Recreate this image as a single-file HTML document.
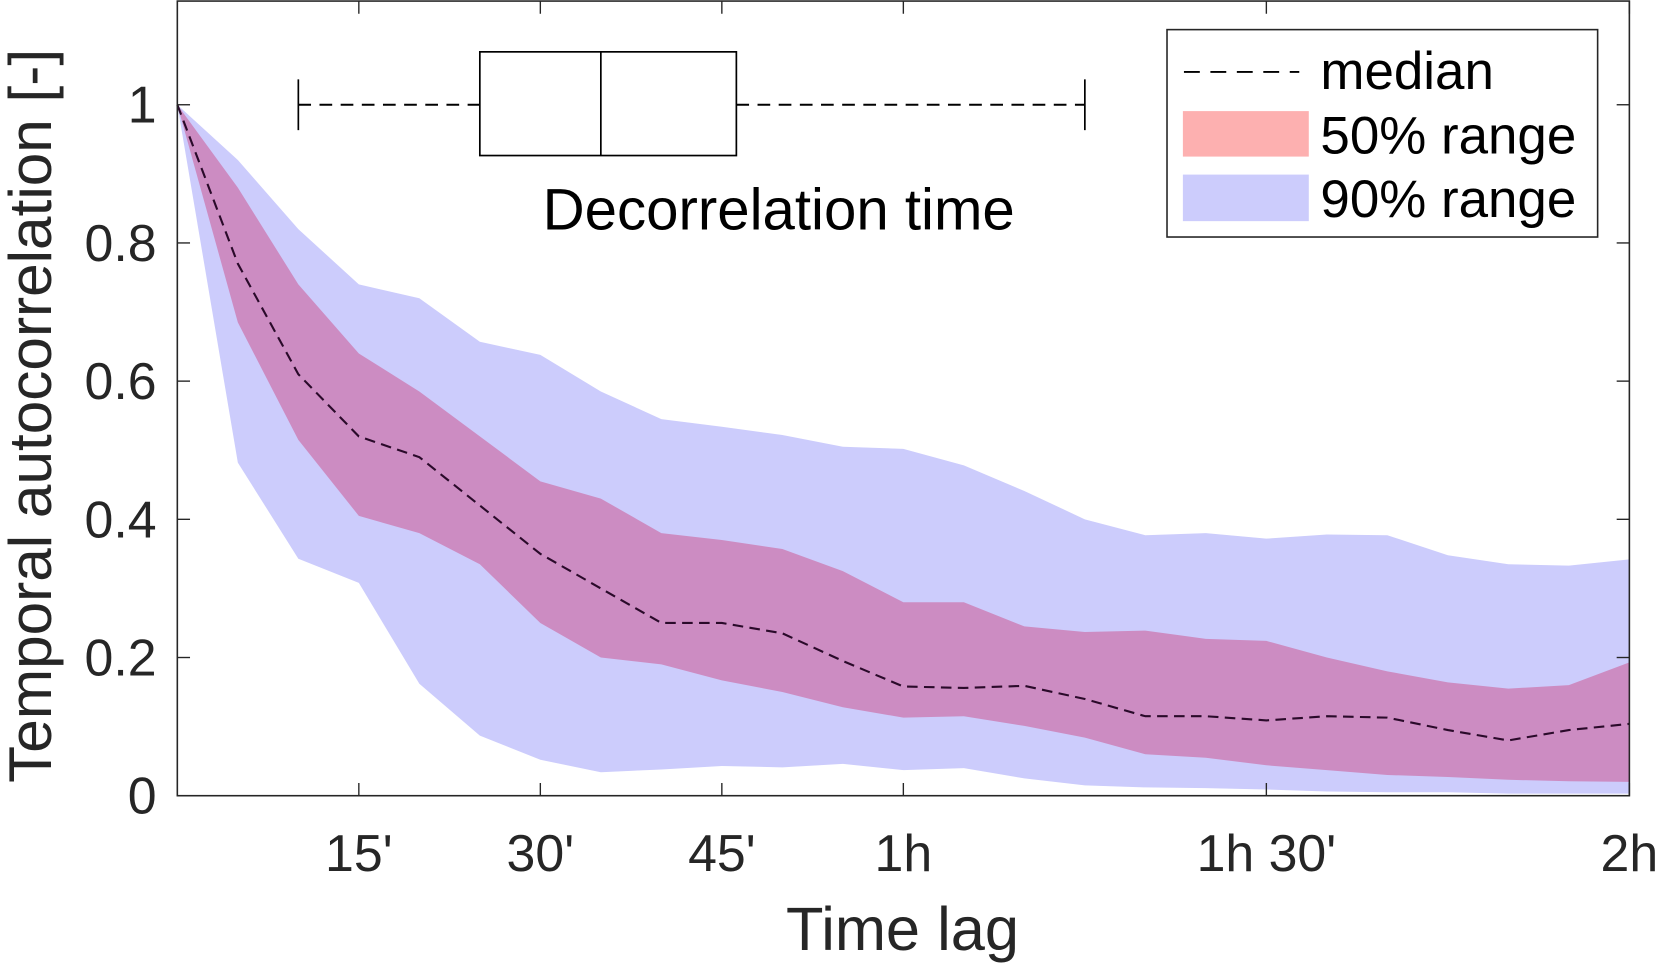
<!DOCTYPE html>
<html><head><meta charset="utf-8"><style>
html,body{margin:0;padding:0;background:#fff;}
svg{display:block;}
text{font-family:"Liberation Sans",Arial,sans-serif;fill:#262626;}
</style></head><body>
<svg id="chart" width="1659" height="965" viewBox="0 0 1568 912" preserveAspectRatio="none" xmlns="http://www.w3.org/2000/svg">
<g id="plot"></g>
</svg>
<script>
const lags = [0,5,10,15,20,25,30,35,40,45,50,55,60,65,70,75,80,85,90,95,100,105,110,115,120];
const medianVals = [1,0.77,0.61,0.52,0.49,0.42,0.35,0.30,0.25,0.25,0.235,0.195,0.158,0.156,0.159,0.14,0.115,0.115,0.109,0.115,0.113,0.095,0.08,0.095,0.104];
const p50Upper = [1,0.88,0.74,0.64,0.585,0.52,0.455,0.43,0.38,0.37,0.357,0.325,0.28,0.28,0.245,0.237,0.239,0.227,0.224,0.2,0.18,0.164,0.155,0.16,0.193];
const p50Lower = [1,0.685,0.515,0.405,0.38,0.335,0.25,0.2,0.19,0.167,0.15,0.128,0.113,0.115,0.101,0.084,0.06,0.055,0.044,0.037,0.03,0.027,0.023,0.021,0.02];
const p90Upper = [1,0.92,0.82,0.74,0.72,0.657,0.638,0.585,0.545,0.534,0.522,0.505,0.502,0.478,0.441,0.4,0.377,0.38,0.372,0.378,0.377,0.348,0.335,0.333,0.342];
const p90Lower = [1,0.482,0.343,0.308,0.162,0.087,0.052,0.034,0.038,0.043,0.041,0.046,0.037,0.04,0.025,0.015,0.012,0.011,0.009,0.006,0.005,0.005,0.003,0.003,0.003];
const xTickVals = [15,30,45,60,90,120];
const xTickLabels = ["15'","30'","45'","1h","1h 30'","2h"];
const yTickVals = [0,0.2,0.4,0.6,0.8,1];
const yTickLabels = ["0","0.2","0.4","0.6","0.8","1"];
const boxStats = [10,25,35,46.2,75]; // whiskerLow, q1, median, q3, whiskerHigh (minutes)

const L=167.6,R=1540,T=1,B=752;
const X=t=>L+(t/120)*(R-L);
const Y=v=>B-v*653;
const NS="http://www.w3.org/2000/svg";
const g=document.getElementById('plot');
function mk(tag,attrs,parent){const e=document.createElementNS(NS,tag);for(const k in attrs)e.setAttribute(k,attrs[k]);(parent||g).appendChild(e);return e;}
function band(up,lo){let pts=lags.map((t,i)=>X(t)+','+Y(up[i]));for(let i=lags.length-1;i>=0;i--)pts.push(X(lags[i])+','+Y(lo[i]));return pts.join(' ');}

let e=mk('polygon',{points:band(p90Upper,p90Lower),fill:'#ccccfc',stroke:'none'});


e=mk('polygon',{points:band(p50Upper,p50Lower),fill:'#cc8cc2',stroke:'none'});


e=mk('polyline',{points:lags.map((t,i)=>X(t)+','+Y(medianVals[i])).join(' '),fill:'none',stroke:'#2a0a2a','stroke-width':2,'stroke-dasharray':'10,6'});



e=mk('rect',{x:L,y:T,width:R-L,height:B-T,fill:'none',stroke:'#262626','stroke-width':1.5});


xTickVals.forEach((v,i)=>{
  mk('line',{x1:X(v),x2:X(v),y1:B,y2:B-12,stroke:'#262626','stroke-width':1.3});
  mk('line',{x1:X(v),x2:X(v),y1:T,y2:T+12,stroke:'#262626','stroke-width':1.3});
  const t=mk('text',{x:X(v),y:823,'font-size':49,'text-anchor':'middle'});
  t.textContent=xTickLabels[i];
  
  
});
yTickVals.forEach((v,i)=>{
  mk('line',{x1:L,x2:L+12,y1:Y(v),y2:Y(v),stroke:'#262626','stroke-width':1.3});
  mk('line',{x1:R,x2:R-12,y1:Y(v),y2:Y(v),stroke:'#262626','stroke-width':1.3});
  const t=mk('text',{x:148,y:Y(v)+17,'font-size':49,'text-anchor':'end'});
  t.textContent=yTickLabels[i];
  
  
});

const bg=mk('g',{});


const cy=Y(1);
mk('line',{x1:X(boxStats[0]),x2:X(boxStats[1]),y1:cy,y2:cy,stroke:'#000','stroke-width':1.8,'stroke-dasharray':'12,8'},bg);
mk('line',{x1:X(boxStats[3]),x2:X(boxStats[4]),y1:cy,y2:cy,stroke:'#000','stroke-width':1.8,'stroke-dasharray':'12,8'},bg);
mk('line',{x1:X(boxStats[0]),x2:X(boxStats[0]),y1:cy-24,y2:cy+24,stroke:'#000','stroke-width':1.6},bg);
mk('line',{x1:X(boxStats[4]),x2:X(boxStats[4]),y1:cy-24,y2:cy+24,stroke:'#000','stroke-width':1.6},bg);
mk('rect',{x:X(boxStats[1]),y:49,width:X(boxStats[3])-X(boxStats[1]),height:98,fill:'#fff',stroke:'#000','stroke-width':1.6},bg);
mk('line',{x1:X(boxStats[2]),x2:X(boxStats[2]),y1:49,y2:147,stroke:'#000','stroke-width':1.6},bg);
</script>
<svg style="position:absolute;left:0;top:0" width="1659" height="965" viewBox="0 0 1568 912" preserveAspectRatio="none" xmlns="http://www.w3.org/2000/svg">
<text x="736" y="217" font-size="55" text-anchor="middle" style="fill:#000">Decorrelation time</text>
<g>
<rect x="1103" y="28" width="407" height="196" fill="#fff" stroke="#262626" stroke-width="1.5"/>
<line x1="1119" x2="1228" y1="68" y2="68" stroke="#000" stroke-width="1.8" stroke-dasharray="15,10"/>
<rect x="1118" y="105" width="119" height="43" fill="#fdb0b0"/>
<rect x="1118" y="165" width="119" height="44" fill="#ccccfc"/>
<text x="1248" y="84" font-size="50" style="fill:#000">median</text>
<text x="1248" y="145" font-size="50" style="fill:#000">50% range</text>
<text x="1248" y="205" font-size="50" style="fill:#000">90% range</text>
</g>
<text x="853" y="898" font-size="58" text-anchor="middle">Time lag</text>
<text x="0" y="0" font-size="57" text-anchor="middle" transform="translate(48,393) rotate(-90)">Temporal autocorrelation [-]</text>
</svg>
</body></html>
